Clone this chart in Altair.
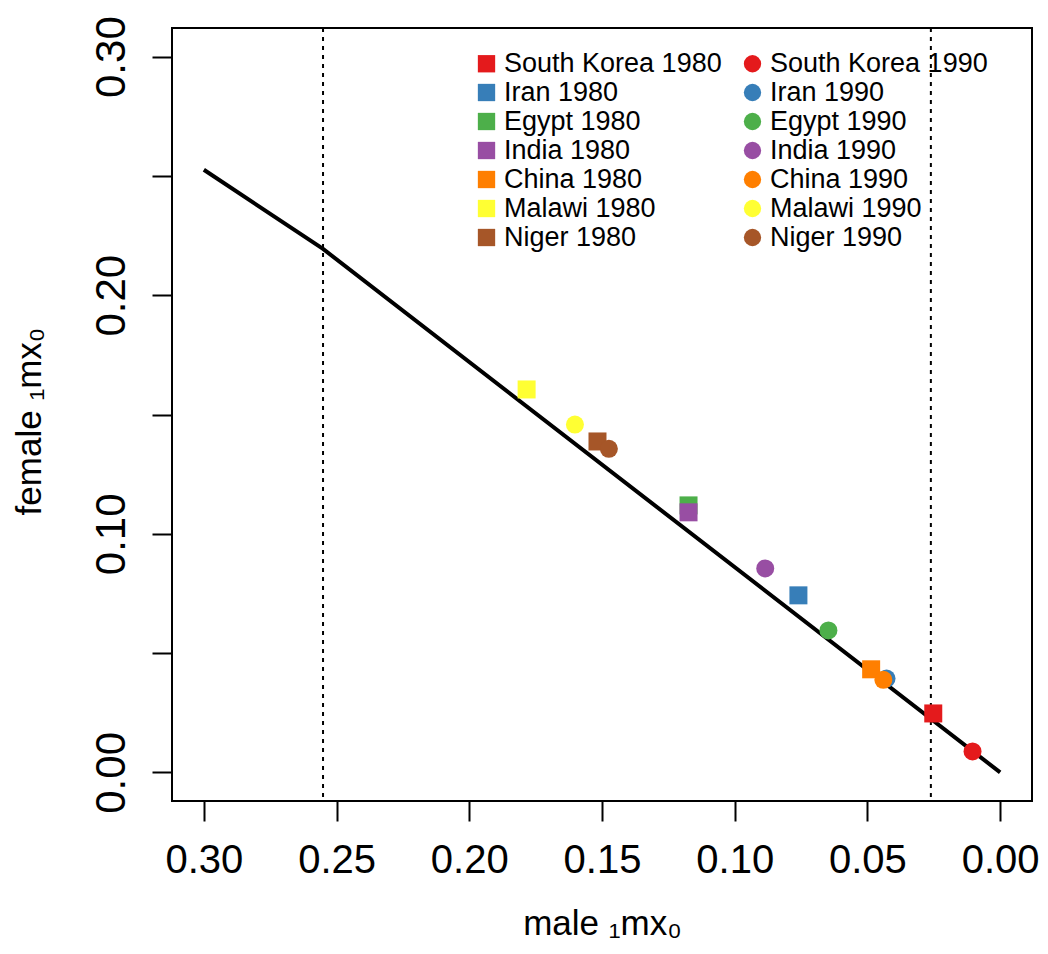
import altair as alt
import pandas as pd

countries = ["South Korea", "Iran", "Egypt", "India", "China", "Malawi", "Niger"]
colors = ["#E41A1C", "#377EB8", "#4DAF4A", "#984EA3", "#FF7F00", "#FFFF33", "#A65628"]
male_1980 = [0.0252, 0.0760, 0.1174, 0.1174, 0.0486, 0.1784, 0.1517]
female_1980 = [0.0247, 0.0742, 0.1119, 0.1090, 0.0432, 0.1605, 0.1387]
male_1990 = [0.0104, 0.0428, 0.0647, 0.0885, 0.0440, 0.1602, 0.1474]
female_1990 = [0.0088, 0.0393, 0.0595, 0.0855, 0.0388, 0.1458, 0.1356]

line_male = [0.30, 0.2551, 0.0]
line_female = [0.2526, 0.2194, 0.0]
dotted_x = [0.2551, 0.0261]

x_ticks = [0.30, 0.25, 0.20, 0.15, 0.10, 0.05, 0.00]
y_ticks = [0.00, 0.05, 0.10, 0.15, 0.20, 0.25, 0.30]

FONT = "Liberation Sans, Arial, Helvetica, sans-serif"

rows = []
legend_order, leg_colors, leg_shapes = [], [], []
for yr, mx, fx, shp in (("1980", male_1980, female_1980, "square"),
                        ("1990", male_1990, female_1990, "circle")):
    for i, c in enumerate(countries):
        rows.append({"label": f"{c} {yr}", "male": mx[i], "female": fx[i]})
        legend_order.append(f"{c} {yr}")
        leg_colors.append(colors[i])
        leg_shapes.append(shp)
pts = pd.DataFrame(rows)

line_df = pd.DataFrame({"male": line_male, "female": line_female, "o": list(range(len(line_male)))})
dot_df = pd.DataFrame({"male": dotted_x})

xscale = alt.Scale(domain=[-0.012, 0.312], reverse=True, nice=False, zero=False)
yscale = alt.Scale(domain=[-0.012, 0.312], nice=False, zero=False)

def X():
    return alt.X("male:Q", scale=xscale, axis=alt.Axis(
        values=x_ticks, format=".2f", title="male ₁mx₀",
        labelFontSize=40, labelPadding=19, labelFlush=False, labelOverlap=False,
        titleAlign="center", titleBaseline="alphabetic", titleX=430, titleY=133,
        titleFontSize=35))

def Y():
    return alt.Y("female:Q", scale=yscale, axis=alt.Axis(
        values=y_ticks, title="female ₁mx₀",
        labelExpr="round(datum.value*100) % 10 == 0 ? format(datum.value, '.2f') : ''",
        labelAngle=270, labelAlign="center", labelBaseline="alphabetic",
        labelPadding=28, labelFlush=False, labelOverlap=False,
        titleAngle=270, titleAlign="center", titleBaseline="alphabetic",
        titleX=-132, titleY=393, titleFontSize=35))

rules = alt.Chart(dot_df).mark_rule(color="black", strokeWidth=2, strokeDash=[4, 5]).encode(x=X())

line = alt.Chart(line_df).mark_line(color="black", strokeWidth=4).encode(
    x=X(), y=Y(), order="o:Q")

points = alt.Chart(pts).mark_point(filled=True, opacity=1, size=324, strokeWidth=0).encode(
    x=X(), y=Y(),
    color=alt.Color("label:N", scale=alt.Scale(domain=legend_order, range=leg_colors),
                    legend=alt.Legend(title=None, orient="none", legendX=301, legendY=22,
                                      columns=2, columnPadding=17, rowPadding=1,
                                      labelFontSize=27, labelOffset=4, symbolSize=300,
                                      padding=0, labelFont=FONT, labelColor="black",
                                      symbolStrokeWidth=0, labelLimit=0)),
    shape=alt.Shape("label:N", scale=alt.Scale(domain=legend_order, range=leg_shapes)),
)

chart = alt.layer(rules, line, points).properties(
    width=860, height=773,
    background="white",
    autosize=alt.AutoSizeParams(type="none"),
    padding={"left": 164, "top": 20, "right": 8, "bottom": 141},
).configure_view(stroke="black", strokeWidth=2).configure_axis(
    domain=False, grid=False, ticks=True, tickColor="black", tickWidth=2, tickSize=20,
    labelFontSize=42, labelColor="black", labelFont=FONT,
    titleFont=FONT, titleColor="black", titleFontWeight="normal",
)

chart.save("out.html", embed_options={"renderer": "svg", "actions": False})
